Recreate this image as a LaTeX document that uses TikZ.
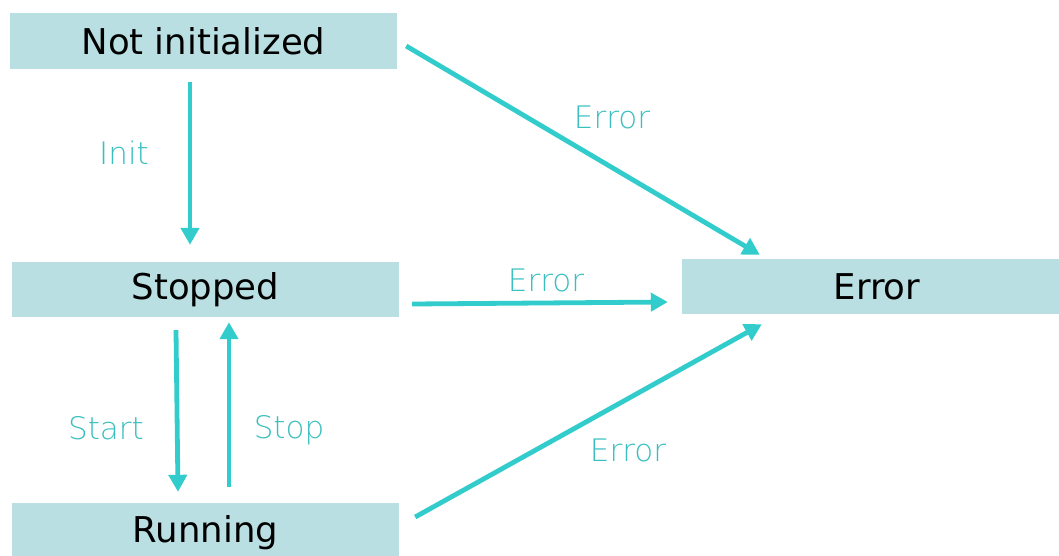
\documentclass[tikz,border=0pt]{standalone}
\usepackage{fontspec}
\setmainfont{DejaVu Sans}
\newfontfamily\lightfont{DejaVu Sans ExtraLight}
\usetikzlibrary{arrows.meta}
\definecolor{boxfill}{HTML}{B9DFE2}
\definecolor{arrcol}{HTML}{33CCCC}
\definecolor{labcol}{HTML}{3ABFBF}
\tikzset{
  statebox/.style={fill=boxfill, draw=none, inner sep=0pt, font=\fontsize{35.5}{38}\selectfont},
  arr/.style={draw=arrcol, line width=4.8pt, -{Triangle[length=17pt,width=18pt]}},
  lab/.style={text=labcol, inner sep=0pt, font=\lightfont\fontsize{31}{34}\selectfont},
}
\begin{document}
\begin{tikzpicture}[x=1pt,y=-1pt]
\useasboundingbox (0,0) rectangle (1059,555);
\node[statebox, minimum width=387pt, minimum height=56pt] (ni) at (203.5,41) {Not initialized};
\node[statebox, minimum width=387pt, minimum height=55pt] (st) at (205.5,289.5) {Stopped};
\node[statebox, minimum width=387pt, minimum height=60pt] (run) at (205.5,533) {Running};
\node[statebox, minimum width=390pt, minimum height=55pt] (er) at (877,286.5) {Error};

\draw[arr] ([xshift=-13.5pt,yshift=-13pt]ni.south) -- ([xshift=-15.5pt,yshift=17pt]st.north);
\draw[arr] ([xshift=-29.5pt,yshift=-13pt]st.south) -- ([xshift=-27.5pt,yshift=11pt]run.north);
\draw[arr] ([xshift=23.5pt,yshift=16pt]run.north) -- ([xshift=23.5pt,yshift=-5pt]st.south);
\draw[arr] ([xshift=9pt,yshift=-5pt]ni.east) -- ([xshift=78pt,yshift=4pt]er.north west);
\draw[arr] ([xshift=13pt,yshift=-14.5pt]st.east) -- ([xshift=-14pt,yshift=-15.5pt]er.west);
\draw[arr] ([xshift=16pt,yshift=16pt]run.east) -- ([xshift=80pt,yshift=-10pt]er.south west);

\node[lab] (linit) at (124,153) {Init};
\node[lab] (lstart) at (106,428) {Start};
\node[lab] (lstop) at (289,430) {Stop};
\node[lab] (le1) at (612,117) {Error};
\node[lab] (le2) at (546,280) {Error};
\node[lab] (le3) at (628,450) {Error};
\end{tikzpicture}
\end{document}
